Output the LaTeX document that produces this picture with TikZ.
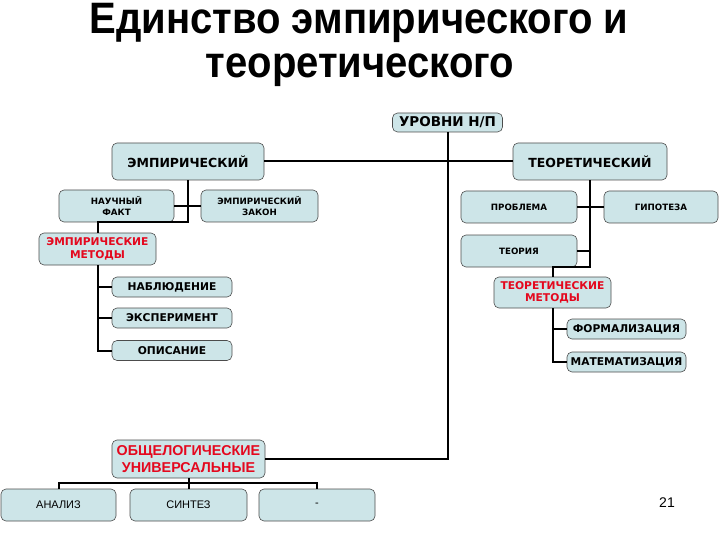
\documentclass[tikz,border=0pt]{standalone}
\usepackage{fontspec}
\setmainfont{Liberation Sans}
\newfontfamily\vfont{DejaVu Sans}
\newfontfamily\titlefont{Liberation Sans}[FakeStretch=0.91]
\usetikzlibrary{positioning,calc}
\definecolor{boxfill}{RGB}{205,229,232}
\definecolor{methred}{RGB}{228,8,30}

\begin{document}
\begin{tikzpicture}[
  x=1pt, y=-1pt,
  box/.style={draw=black!70, fill=boxfill, rounded corners=5pt, line width=0.6pt,
              align=center, inner sep=1pt},
  sz/.style 2 args={minimum width=#1pt, minimum height=#2pt},
  link/.style={line width=2pt, draw=black},
  big/.style={font=\vfont\bfseries\fontsize{12.5}{14}\selectfont},
  mid/.style={font=\vfont\bfseries\fontsize{10.7}{12.5}\selectfont},
  small/.style={font=\vfont\bfseries\fontsize{8.7}{10.5}\selectfont},
  meth/.style={font=\vfont\bfseries\fontsize{10.7}{12.5}\selectfont, text=methred},
  plain/.style={font=\fontsize{11}{13}\selectfont},
  ttl/.style={font=\titlefont\bfseries\fontsize{44}{48}\selectfont, anchor=base, inner sep=0pt},
]
\useasboundingbox (0,0) rectangle (720,540);

% ---- title ----
\node[ttl] (t1) at (359,34) {Единство эмпирического и};
\node[ttl] (t2) at (360,78) {теоретического};

% ---- top of the tree ----
\node[box, sz={110}{19}, font=\vfont\bfseries\fontsize{13.5}{15}\selectfont] (lvl) at (447.5,122.5) {УРОВНИ Н/П};
\node[box, sz={152}{37}, big] (emp)  at (188,161.5) {ЭМПИРИЧЕСКИЙ};
\node[box, sz={154}{37}, big] (teor) at (590,161.5) {ТЕОРЕТИЧЕСКИЙ};

% ---- empirical branch ----
\node[box, sz={115}{32}, small] (fact) at (116.5,206) {НАУЧНЫЙ\\ФАКТ};
\node[box, sz={117}{32}, small] (law)  at (259.5,206) {ЭМПИРИЧЕСКИЙ\\ЗАКОН};
\node[box, sz={117}{32}, meth]  (emeth) at (97.5,249) {ЭМПИРИЧЕСКИЕ\\МЕТОДЫ};
\node[box, sz={120}{20}, mid] (obs)  at (172,287)   {НАБЛЮДЕНИЕ};
\node[box, sz={120}{20}, mid] (expr) at (172,318)   {ЭКСПЕРИМЕНТ};
\node[box, sz={120}{20}, mid] (desc) at (172,350.5) {ОПИСАНИЕ};

% ---- theoretical branch ----
\node[box, sz={116}{32}, small] (prob)   at (519,207) {ПРОБЛЕМА};
\node[box, sz={114}{32}, small] (hyp)    at (661,207) {ГИПОТЕЗА};
\node[box, sz={116}{32}, small] (theory) at (519,251) {ТЕОРИЯ};
\node[box, sz={117}{31}, meth]  (tmeth)  at (552.5,292.5) {ТЕОРЕТИЧЕСКИЕ\\МЕТОДЫ};
\node[box, sz={119}{20}, mid] (form) at (626.5,329) {ФОРМАЛИЗАЦИЯ};
\node[box, sz={119}{20}, mid] (math) at (626.5,362) {МАТЕМАТИЗАЦИЯ};

% ---- general logical methods ----
\node[box, sz={153}{38}, font=\bfseries\fontsize{14.3}{16.5}\selectfont, text=methred] (gen) at (188.5,459) {ОБЩЕЛОГИЧЕСКИЕ\\УНИВЕРСАЛЬНЫЕ};
\node[box, sz={115}{32}, plain] (an)  at (58.5,505)  {АНАЛИЗ};
\node[box, sz={117}{32}, plain] (syn) at (188.5,505) {СИНТЕЗ};
\node[box, sz={116}{32}, plain] (dsh) at (317,505)   {-};

\node[font=\fontsize{14}{16}\selectfont] (pg) at (667,503) {21};

% ---- connectors ----
\draw[link] (emp.east) -- (teor.west);
\draw[link] (lvl.south) |- (gen.east);

\coordinate (ej) at (emp.south |- fact.south);
\draw[link] (emp.south) -- (ej) -| (emeth.north);
\draw[link] (fact.east) -- (law.west);
\draw[link] (emeth.south) |- (desc.west);
\foreach \n in {obs,expr}
  \draw[link] (emeth.south |- \n.west) -- (\n.west);

\coordinate (tj) at (teor.south |- theory.south);
\draw[link] (teor.south) -- (tj) -| (tmeth.north);
\draw[link] (prob.east) -- (hyp.west);
\draw[link] (theory.east) -- (teor.south |- theory.east);
\draw[link] (tmeth.south) |- (math.west);
\draw[link] (tmeth.south |- form.west) -- (form.west);

\coordinate (bar) at (0,483);
\draw[link] (gen.south) -- (syn.north);
\draw[link] (an.north) -- (an.north |- bar) -- (dsh.north |- bar) -- (dsh.north);
\end{tikzpicture}
\end{document}
